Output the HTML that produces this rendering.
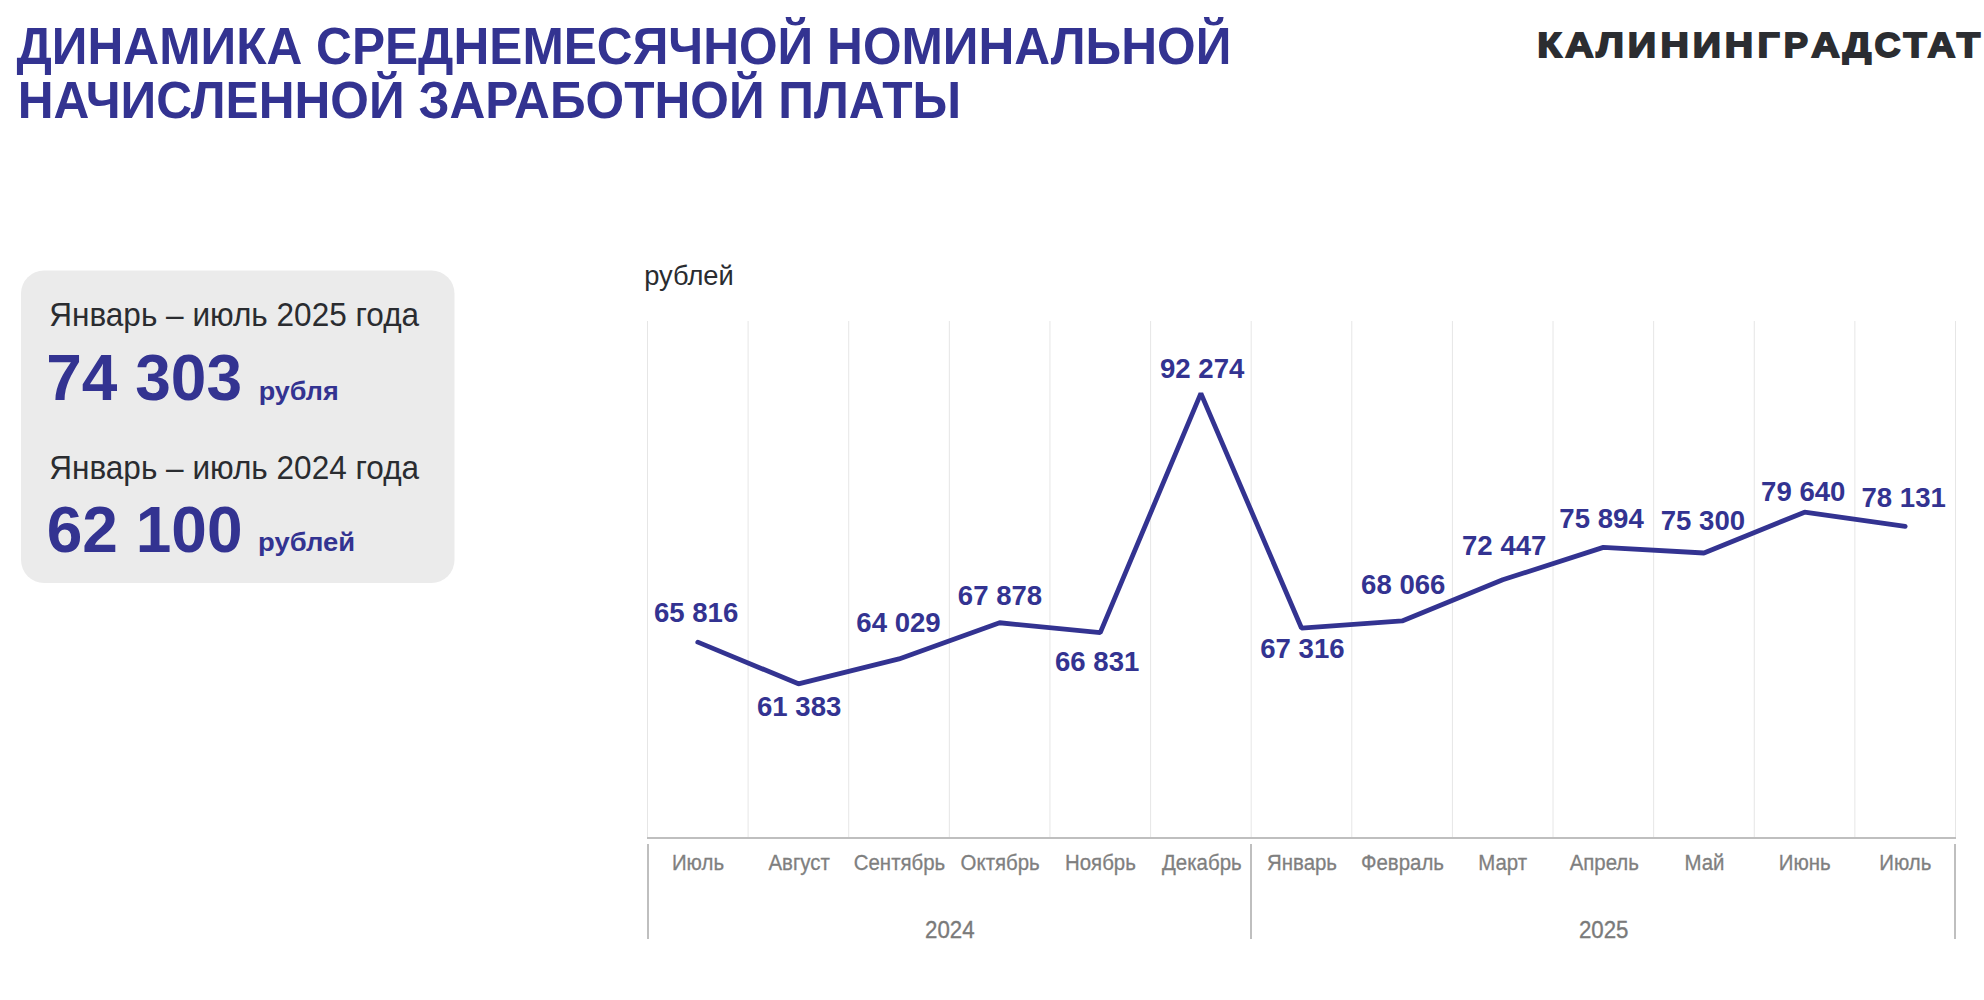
<!DOCTYPE html>
<html lang="ru"><head><meta charset="utf-8"><title>Динамика среднемесячной номинальной начисленной заработной платы</title>
<style>
html,body{margin:0;padding:0;background:#fff;}
body{width:1984px;height:1000px;overflow:hidden;}
svg{display:block;font-family:"Liberation Sans",sans-serif;}
</style></head><body>
<svg width="1984" height="1000" viewBox="0 0 1984 1000">
<text transform="translate(16.50 64.00) scale(0.9620 1)" font-size="51.60" font-weight="bold" fill="#333391">ДИНАМИКА СРЕДНЕМЕСЯЧНОЙ НОМИНАЛЬНОЙ</text>
<text transform="translate(17.77 118.00) scale(0.9620 1)" font-size="51.60" font-weight="bold" fill="#333391">НАЧИСЛЕННОЙ ЗАРАБОТНОЙ ПЛАТЫ</text>
<text transform="translate(1537.24 56.70) scale(1.1313 1)" font-size="35.20" font-weight="bold" fill="#2b2d31" stroke="#2b2d31" stroke-width="1.80" stroke-linejoin="miter">К</text>
<text transform="translate(1565.32 56.70) scale(1.1137 1)" font-size="35.20" font-weight="bold" fill="#2b2d31" stroke="#2b2d31" stroke-width="1.80" stroke-linejoin="miter">А</text>
<text transform="translate(1596.25 56.70) scale(1.1213 1)" font-size="35.20" font-weight="bold" fill="#2b2d31" stroke="#2b2d31" stroke-width="1.80" stroke-linejoin="miter">Л</text>
<text transform="translate(1627.78 56.70) scale(1.1209 1)" font-size="35.20" font-weight="bold" fill="#2b2d31" stroke="#2b2d31" stroke-width="1.80" stroke-linejoin="miter">И</text>
<text transform="translate(1660.47 56.70) scale(1.1163 1)" font-size="35.20" font-weight="bold" fill="#2b2d31" stroke="#2b2d31" stroke-width="1.80" stroke-linejoin="miter">Н</text>
<text transform="translate(1692.69 56.70) scale(1.1161 1)" font-size="35.20" font-weight="bold" fill="#2b2d31" stroke="#2b2d31" stroke-width="1.80" stroke-linejoin="miter">И</text>
<text transform="translate(1724.77 56.70) scale(1.1163 1)" font-size="35.20" font-weight="bold" fill="#2b2d31" stroke="#2b2d31" stroke-width="1.80" stroke-linejoin="miter">Н</text>
<text transform="translate(1757.50 56.70) scale(1.1057 1)" font-size="35.20" font-weight="bold" fill="#2b2d31" stroke="#2b2d31" stroke-width="1.80" stroke-linejoin="miter">Г</text>
<text transform="translate(1783.86 56.70) scale(1.0341 1)" font-size="35.20" font-weight="bold" fill="#2b2d31" stroke="#2b2d31" stroke-width="1.80" stroke-linejoin="miter">Р</text>
<text transform="translate(1811.22 56.70) scale(1.1221 1)" font-size="35.20" font-weight="bold" fill="#2b2d31" stroke="#2b2d31" stroke-width="1.80" stroke-linejoin="miter">А</text>
<text transform="translate(1842.75 56.70) scale(1.1396 1)" font-size="35.20" font-weight="bold" fill="#2b2d31" stroke="#2b2d31" stroke-width="1.80" stroke-linejoin="miter">Д</text>
<text transform="translate(1874.42 56.70) scale(1.0255 1)" font-size="35.20" font-weight="bold" fill="#2b2d31" stroke="#2b2d31" stroke-width="1.80" stroke-linejoin="miter">С</text>
<text transform="translate(1903.47 56.70) scale(1.0758 1)" font-size="35.20" font-weight="bold" fill="#2b2d31" stroke="#2b2d31" stroke-width="1.80" stroke-linejoin="miter">Т</text>
<text transform="translate(1927.44 56.70) scale(1.0967 1)" font-size="35.20" font-weight="bold" fill="#2b2d31" stroke="#2b2d31" stroke-width="1.80" stroke-linejoin="miter">А</text>
<text transform="translate(1956.67 56.70) scale(1.0903 1)" font-size="35.20" font-weight="bold" fill="#2b2d31" stroke="#2b2d31" stroke-width="1.80" stroke-linejoin="miter">Т</text>
<rect x="21" y="270.5" width="433.5" height="312.5" rx="23" ry="23" fill="#ebebeb"/>
<text transform="translate(49.22 326.00) scale(0.9590 1)" font-size="32.90" fill="#2a2c30">Январь – июль 2025 года</text>
<text transform="translate(49.22 479.30) scale(0.9590 1)" font-size="32.90" fill="#2a2c30">Январь – июль 2024 года</text>
<text transform="translate(46.22 399.90)" font-size="64.00" font-weight="bold" fill="#333391">74 303</text>
<text transform="translate(46.76 552.00)" font-size="64.00" font-weight="bold" fill="#333391">62 100</text>
<text transform="translate(258.64 400.00) scale(1.0200 1)" font-size="26.50" font-weight="bold" fill="#333391">рубля</text>
<text transform="translate(258.12 550.90) scale(1.0350 1)" font-size="26.50" font-weight="bold" fill="#333391">рублей</text>
<text transform="translate(644.22 285.00) scale(0.9720 1)" font-size="28.10" fill="#2a2c30">рублей</text>
<line x1="647.50" y1="321" x2="647.50" y2="837" stroke="#e6e6e6" stroke-width="1"/>
<line x1="748.12" y1="321" x2="748.12" y2="837" stroke="#e6e6e6" stroke-width="1"/>
<line x1="848.73" y1="321" x2="848.73" y2="837" stroke="#e6e6e6" stroke-width="1"/>
<line x1="949.35" y1="321" x2="949.35" y2="837" stroke="#e6e6e6" stroke-width="1"/>
<line x1="1049.96" y1="321" x2="1049.96" y2="837" stroke="#e6e6e6" stroke-width="1"/>
<line x1="1150.58" y1="321" x2="1150.58" y2="837" stroke="#e6e6e6" stroke-width="1"/>
<line x1="1251.19" y1="321" x2="1251.19" y2="837" stroke="#e6e6e6" stroke-width="1"/>
<line x1="1351.81" y1="321" x2="1351.81" y2="837" stroke="#e6e6e6" stroke-width="1"/>
<line x1="1452.42" y1="321" x2="1452.42" y2="837" stroke="#e6e6e6" stroke-width="1"/>
<line x1="1553.04" y1="321" x2="1553.04" y2="837" stroke="#e6e6e6" stroke-width="1"/>
<line x1="1653.65" y1="321" x2="1653.65" y2="837" stroke="#e6e6e6" stroke-width="1"/>
<line x1="1754.27" y1="321" x2="1754.27" y2="837" stroke="#e6e6e6" stroke-width="1"/>
<line x1="1854.88" y1="321" x2="1854.88" y2="837" stroke="#e6e6e6" stroke-width="1"/>
<line x1="1955.50" y1="321" x2="1955.50" y2="837" stroke="#e6e6e6" stroke-width="1"/>
<line x1="647" y1="838" x2="1956" y2="838" stroke="#bfbfbf" stroke-width="2"/>
<line x1="648" y1="844" x2="648" y2="939" stroke="#bfbfbf" stroke-width="2"/>
<line x1="1251" y1="844" x2="1251" y2="939" stroke="#bfbfbf" stroke-width="2"/>
<line x1="1955" y1="844" x2="1955" y2="939" stroke="#bfbfbf" stroke-width="2"/>
<polyline points="697.81,642.13 798.42,683.80 899.04,658.93 999.65,622.75 1100.27,632.59 1200.88,393.42 1301.50,628.03 1402.12,620.98 1502.73,579.80 1603.35,547.40 1703.96,552.98 1804.58,512.18 1905.19,526.37" fill="none" stroke="#333391" stroke-width="4.8" stroke-linejoin="bevel" stroke-linecap="round"/>
<text transform="translate(653.88 622.10) scale(0.9720 1)" font-size="28.40" font-weight="bold" fill="#333391">65 816</text>
<text transform="translate(756.93 716.10) scale(0.9720 1)" font-size="28.40" font-weight="bold" fill="#333391">61 383</text>
<text transform="translate(856.28 631.80) scale(0.9720 1)" font-size="28.40" font-weight="bold" fill="#333391">64 029</text>
<text transform="translate(957.80 604.50) scale(0.9720 1)" font-size="28.40" font-weight="bold" fill="#333391">67 878</text>
<text transform="translate(1054.95 670.80) scale(0.9720 1)" font-size="28.40" font-weight="bold" fill="#333391">66 831</text>
<text transform="translate(1159.95 377.70) scale(0.9720 1)" font-size="28.40" font-weight="bold" fill="#333391">92 274</text>
<text transform="translate(1260.23 658.00) scale(0.9720 1)" font-size="28.40" font-weight="bold" fill="#333391">67 316</text>
<text transform="translate(1361.03 594.00) scale(0.9720 1)" font-size="28.40" font-weight="bold" fill="#333391">68 066</text>
<text transform="translate(1462.01 555.00) scale(0.9720 1)" font-size="28.40" font-weight="bold" fill="#333391">72 447</text>
<text transform="translate(1559.31 527.90) scale(0.9720 1)" font-size="28.40" font-weight="bold" fill="#333391">75 894</text>
<text transform="translate(1660.70 529.70) scale(0.9720 1)" font-size="28.40" font-weight="bold" fill="#333391">75 300</text>
<text transform="translate(1761.05 500.80) scale(0.9720 1)" font-size="28.40" font-weight="bold" fill="#333391">79 640</text>
<text transform="translate(1861.46 507.10) scale(0.9720 1)" font-size="28.40" font-weight="bold" fill="#333391">78 131</text>
<text transform="translate(671.94 869.90) scale(0.9550 1)" font-size="21.40" fill="#7f7f7f" stroke="#7f7f7f" stroke-width="0.3">Июль</text>
<text transform="translate(768.42 869.90) scale(0.9550 1)" font-size="21.40" fill="#7f7f7f" stroke="#7f7f7f" stroke-width="0.3">Август</text>
<text transform="translate(853.76 869.90) scale(0.9550 1)" font-size="21.40" fill="#7f7f7f" stroke="#7f7f7f" stroke-width="0.3">Сентябрь</text>
<text transform="translate(960.61 869.90) scale(0.9550 1)" font-size="21.40" fill="#7f7f7f" stroke="#7f7f7f" stroke-width="0.3">Октябрь</text>
<text transform="translate(1065.00 869.90) scale(0.9550 1)" font-size="21.40" fill="#7f7f7f" stroke="#7f7f7f" stroke-width="0.3">Ноябрь</text>
<text transform="translate(1162.04 869.90) scale(0.9550 1)" font-size="21.40" fill="#7f7f7f" stroke="#7f7f7f" stroke-width="0.3">Декабрь</text>
<text transform="translate(1267.00 869.90) scale(0.9550 1)" font-size="21.40" fill="#7f7f7f" stroke="#7f7f7f" stroke-width="0.3">Январь</text>
<text transform="translate(1360.97 869.90) scale(0.9550 1)" font-size="21.40" fill="#7f7f7f" stroke="#7f7f7f" stroke-width="0.3">Февраль</text>
<text transform="translate(1478.24 869.90) scale(0.9550 1)" font-size="21.40" fill="#7f7f7f" stroke="#7f7f7f" stroke-width="0.3">Март</text>
<text transform="translate(1569.66 869.90) scale(0.9550 1)" font-size="21.40" fill="#7f7f7f" stroke="#7f7f7f" stroke-width="0.3">Апрель</text>
<text transform="translate(1684.43 869.90) scale(0.9550 1)" font-size="21.40" fill="#7f7f7f" stroke="#7f7f7f" stroke-width="0.3">Май</text>
<text transform="translate(1778.81 869.90) scale(0.9550 1)" font-size="21.40" fill="#7f7f7f" stroke="#7f7f7f" stroke-width="0.3">Июнь</text>
<text transform="translate(1879.33 869.90) scale(0.9550 1)" font-size="21.40" fill="#7f7f7f" stroke="#7f7f7f" stroke-width="0.3">Июль</text>
<text transform="translate(925.10 937.84) scale(0.9600 1)" font-size="23.20" fill="#7a7a7a" stroke="#7a7a7a" stroke-width="0.35">2024</text>
<text transform="translate(1578.91 937.84) scale(0.9600 1)" font-size="23.20" fill="#7a7a7a" stroke="#7a7a7a" stroke-width="0.35">2025</text>
</svg>
</body></html>
